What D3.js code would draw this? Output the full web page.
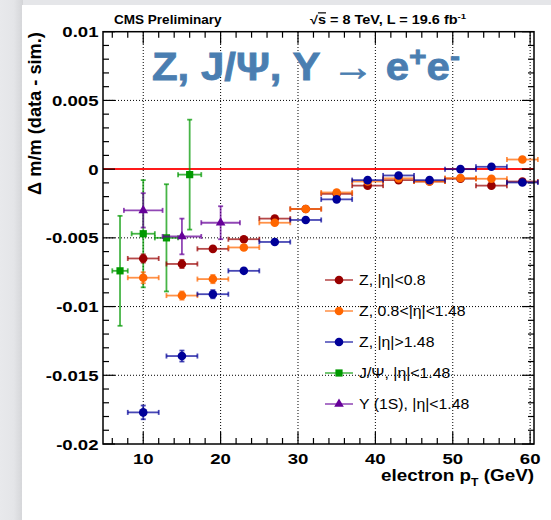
<!DOCTYPE html>
<html>
<head>
<meta charset="utf-8">
<script src="https://cdn.jsdelivr.net/npm/d3@7"></script>
<style>
  body { margin: 0; background: #fff; }
  svg { display: block; }
  text { font-family: "Liberation Sans", Arial, Helvetica, sans-serif; }
</style>
</head>
<body>
<div id="chart"></div>
<script>
// ---------------- data ----------------
const zPt = [10, 15, 19, 23, 27, 31, 35, 39, 43, 47, 51, 55, 59];
const zPtErr = [2, 2, 2, 2, 2, 2, 2, 2, 2, 2, 2, 2, 2];

const zBarrelVal = [-0.0065, -0.0069, -0.0058, -0.0051, -0.0036, -0.0029, -0.0018, -0.0012, -0.0008, -0.0009, -0.0007, -0.0012, -0.0009];
const zBarrelErr = [0.0003, 0.0003, 0.0002, 0.00015, 0.0001, 0.0001, 0.0001, 0.0001, 0.0001, 0.0001, 0.0001, 0.00015, 0.0002];

const zMidVal = [-0.0079, -0.0092, -0.0080, -0.0057, -0.0039, -0.0029, -0.0017, -0.0009, -0.00067, -0.0009, -0.00065, -0.0007, 0.0007];
const zMidErr = [0.0004, 0.0003, 0.0003, 0.0002, 0.00015, 0.0001, 0.0001, 0.0001, 0.0001, 0.0001, 0.00015, 0.0002, 0.0002];

const zEndcapVal = [-0.0177, -0.0136, -0.0091, -0.0074, -0.0053, -0.0037, -0.0022, -0.0008, -0.00046, -0.0008, 0.0, 0.00017, -0.00097];
const zEndcapErr = [0.0005, 0.0004, 0.0003, 0.0002, 0.00015, 0.0001, 0.0001, 0.0001, 0.0001, 0.0001, 0.00015, 0.0002, 0.0002];

const jpsiPt = [7, 10, 13, 16];
const jpsiPtErr = [1, 1.5, 1.5, 1.5];
const jpsiVal = [-0.0074, -0.0047, -0.0050, -0.0004];
const jpsiErr = [0.0040, 0.0039, 0.0039, 0.0040];

const upsPt = [10, 15, 20];
const upsPtErr = [2.5, 2.5, 2.5];
const upsVal = [-0.0030, -0.0049, -0.0039];
const upsErr = [0.00125, 0.0013, 0.0012];

const xMajor = [10, 20, 30, 40, 50, 60];
const yMajor = [0.01, 0.005, 0, -0.005, -0.01, -0.015, -0.02];

// ---------------- page backdrop ----------------
const W = 551, H = 520;
const svg = d3.select("#chart").append("svg").attr("width", W).attr("height", H);

const defs = svg.append("defs");
const gl = defs.append("linearGradient").attr("id", "shadeL").attr("x1", 0).attr("x2", 1).attr("y1", 0).attr("y2", 0);
gl.append("stop").attr("offset", "0%").attr("stop-color", "#e8e9ec");
gl.append("stop").attr("offset", "60%").attr("stop-color", "#e4e5e8");
gl.append("stop").attr("offset", "100%").attr("stop-color", "#d4d5d8");

svg.append("rect").attr("width", W).attr("height", H).attr("fill", "#e5e6e9");
svg.append("rect").attr("x", 0).attr("y", 0).attr("width", 23).attr("height", H).attr("fill", "url(#shadeL)");
svg.append("rect").attr("x", 22).attr("y", 5).attr("width", W - 22).attr("height", H - 5).attr("fill", "#fff");

// ---------------- scales ----------------
const x = d3.scaleLinear().domain([4.8, 60.5]).range([103, 534]);
const y = d3.scaleLinear().domain([-0.02, 0.01]).range([444, 31.7]);
const [x0, x1] = x.range();
const [y0, y1] = y.range();

// text helper: horizontal stretch, optional fit to a width
function label(parent, px, py, opts) {
  const g = parent.append("g");
  const t = g.append("text")
    .attr("font-size", opts.size)
    .attr("font-weight", opts.weight || "bold")
    .attr("text-anchor", opts.anchor || "start")
    .attr("fill", opts.fill || "#000");
  opts.build(t);
  let sx = opts.sx || 1;
  if (opts.width) sx = opts.width / t.node().getBBox().width;
  g.attr("transform", `translate(${px},${py}) ${opts.rotate ? "rotate(-90)" : ""} scale(${sx},${opts.sy || 1})`);
  return g;
}
const SX = 1.2;

// ---------------- grid ----------------
const grid = svg.append("g").attr("stroke", "#000").attr("stroke-width", 1).attr("stroke-dasharray", "1,2");
grid.selectAll("line.gx").data(xMajor).join("line")
  .attr("x1", d => x(d)).attr("x2", d => x(d)).attr("y1", y0).attr("y2", y1);
grid.selectAll("line.gy").data(yMajor.filter(d => d > -0.02 && d < 0.01 && d !== 0)).join("line")
  .attr("y1", d => y(d)).attr("y2", d => y(d)).attr("x1", x0).attr("x2", x1);

// zero line
svg.append("line").attr("x1", x0).attr("x2", x1).attr("y1", Math.round(y(0))).attr("y2", Math.round(y(0)))
  .attr("stroke", "#ff1a1a").attr("stroke-width", 2);

// ---------------- ticks on all four sides ----------------
const ticks = svg.append("g").attr("stroke", "#000").attr("stroke-width", 1.2);
const xMinor = d3.range(6, 61, 2).filter(d => d % 10 !== 0);
const yMinor = d3.range(-19, 10, 1).map(d => d / 1000).filter(d => Math.abs(Math.round(d * 1000)) % 5 !== 0);
function xt(vals, len) {
  ticks.append("g").selectAll("line").data(vals).join("line")
    .attr("x1", d => x(d)).attr("x2", d => x(d)).attr("y1", y0).attr("y2", y0 - len);
  ticks.append("g").selectAll("line").data(vals).join("line")
    .attr("x1", d => x(d)).attr("x2", d => x(d)).attr("y1", y1).attr("y2", y1 + len);
}
function yt(vals, len) {
  ticks.append("g").selectAll("line").data(vals).join("line")
    .attr("y1", d => y(d)).attr("y2", d => y(d)).attr("x1", x0).attr("x2", x0 + len);
  ticks.append("g").selectAll("line").data(vals).join("line")
    .attr("y1", d => y(d)).attr("y2", d => y(d)).attr("x1", x1).attr("x2", x1 - len);
}
xt(xMajor, 12); xt(xMinor, 6);
yt(yMajor, 12); yt(yMinor, 6);

// ---------------- error bars + markers ----------------
function series(xs, xe, vs, ve, color, shape) {
  const g = svg.append("g");
  const rows = xs.map((d, i) => ({ pt: d, ex: xe[i], v: vs[i], ev: ve[i] }));
  const bars = g.append("g").attr("stroke", color).attr("stroke-width", 1.8).attr("stroke-opacity", 0.72);
  const cap = 2.5;
  rows.forEach(r => {
    const cx = x(r.pt), cy = y(r.v);
    const xa = x(r.pt - r.ex), xb = x(r.pt + r.ex);
    const ya = y(r.v + r.ev), yb = y(r.v - r.ev);
    bars.append("line").attr("x1", xa).attr("x2", xb).attr("y1", cy).attr("y2", cy);
    bars.append("line").attr("x1", xa).attr("x2", xa).attr("y1", cy - cap).attr("y2", cy + cap);
    bars.append("line").attr("x1", xb).attr("x2", xb).attr("y1", cy - cap).attr("y2", cy + cap);
    if (yb - ya > 8) {
      bars.append("line").attr("x1", cx).attr("x2", cx).attr("y1", ya).attr("y2", yb);
      bars.append("line").attr("x1", cx - cap).attr("x2", cx + cap).attr("y1", ya).attr("y2", ya);
      bars.append("line").attr("x1", cx - cap).attr("x2", cx + cap).attr("y1", yb).attr("y2", yb);
    }
  });
  g.selectAll("path.m").data(rows).join("path")
    .attr("d", d3.symbol().type(shape.type).size(shape.size))
    .attr("transform", d => `translate(${x(d.pt)},${y(d.v)})`)
    .attr("fill", color);
}

const cRed = "#990000", cOrange = "#ff6600", cBlue = "#000099", cGreen = "#009900", cPurple = "#660099";
const circ = { type: d3.symbolCircle, size: 58 };
const sq = { type: d3.symbolSquare, size: 52 };
const tri = { type: d3.symbolTriangle, size: 40 };

series(jpsiPt, jpsiPtErr, jpsiVal, jpsiErr, cGreen, sq);
series(upsPt, upsPtErr, upsVal, upsErr, cPurple, tri);
series(zPt, zPtErr, zBarrelVal, zBarrelErr, cRed, circ);
series(zPt, zPtErr, zMidVal, zMidErr, cOrange, circ);
series(zPt, zPtErr, zEndcapVal, zEndcapErr, cBlue, circ);

// frame
svg.append("rect").attr("x", x0).attr("y", y1).attr("width", x1 - x0).attr("height", y0 - y1)
  .attr("fill", "none").attr("stroke", "#000").attr("stroke-width", 1.5);

// ---------------- tick labels ----------------
yMajor.forEach(v => {
  label(svg, 98.5, y(v) + 5.6, { size: 15.5, anchor: "end", sx: SX, build: t => t.text(String(v)) });
});
xMajor.forEach(v => {
  label(svg, x(v), 463.5, { size: 15.5, anchor: "middle", sx: SX, build: t => t.text(String(v)) });
});

// axis titles
label(svg, 534, 481, {
  size: 17, anchor: "end", width: 153,
  build: t => {
    t.append("tspan").text("electron p");
    t.append("tspan").attr("font-size", 11).attr("dy", 5).text("T");
    t.append("tspan").attr("dy", -5).text(" (GeV)");
  }
});
label(svg, 41, 113.5, {
  size: 16, anchor: "middle", rotate: true, sy: 1.15, width: 163,
  build: t => t.text("Δ m/m (data - sim.)")
});

// header
label(svg, 114, 24, { size: 12, width: 108, build: t => t.text("CMS Preliminary") });
label(svg, 310, 24, {
  size: 12, width: 157,
  build: t => {
    t.append("tspan").text("√");
    t.append("tspan").style("text-decoration", "overline").text("s");
    t.append("tspan").text(" = 8 TeV, L = 19.6 fb");
    t.append("tspan").attr("font-size", 8).attr("dy", -5).text("-1");
  }
});

// big title
label(svg, 152, 80, {
  size: 39, width: 308, fill: "#4a7eb1",
  build: t => {
    t.attr("stroke", "#4a7eb1").attr("stroke-width", 0.8);
    t.append("tspan").text("Z, J/Ψ, Υ → e");
    t.append("tspan").attr("font-size", 28).attr("dy", -14).text("+");
    t.append("tspan").attr("dy", 14).text("e");
    t.append("tspan").attr("font-size", 28).attr("dy", -14).text("-");
  }
});

// ---------------- legend ----------------
const legendRows = [
  { name: "Z, |η|<0.8", color: cRed, shape: circ },
  { name: "Z, 0.8<|η|<1.48", color: cOrange, shape: circ },
  { name: "Z, |η|>1.48", color: cBlue, shape: circ },
  { name: "J/Ψ, |η|<1.48", color: cGreen, shape: sq },
  { name: "Υ (1S), |η|<1.48", color: cPurple, shape: tri }
];
const legY = d3.scalePoint().domain(legendRows.map(d => d.name)).range([280, 404]);
legendRows.forEach(r => {
  const ly = legY(r.name);
  svg.append("line").attr("x1", 325).attr("x2", 353).attr("y1", ly).attr("y2", ly)
    .attr("stroke", r.color).attr("stroke-width", 2).attr("stroke-opacity", 0.55);
  svg.append("path").attr("d", d3.symbol().type(r.shape.type).size(r.shape.size))
    .attr("transform", `translate(339,${ly})`).attr("fill", r.color);
  label(svg, 359, ly + 5, { size: 14, weight: "normal", sx: 1.13, build: t => t.text(r.name) });
});
</script>
</body>
</html>
